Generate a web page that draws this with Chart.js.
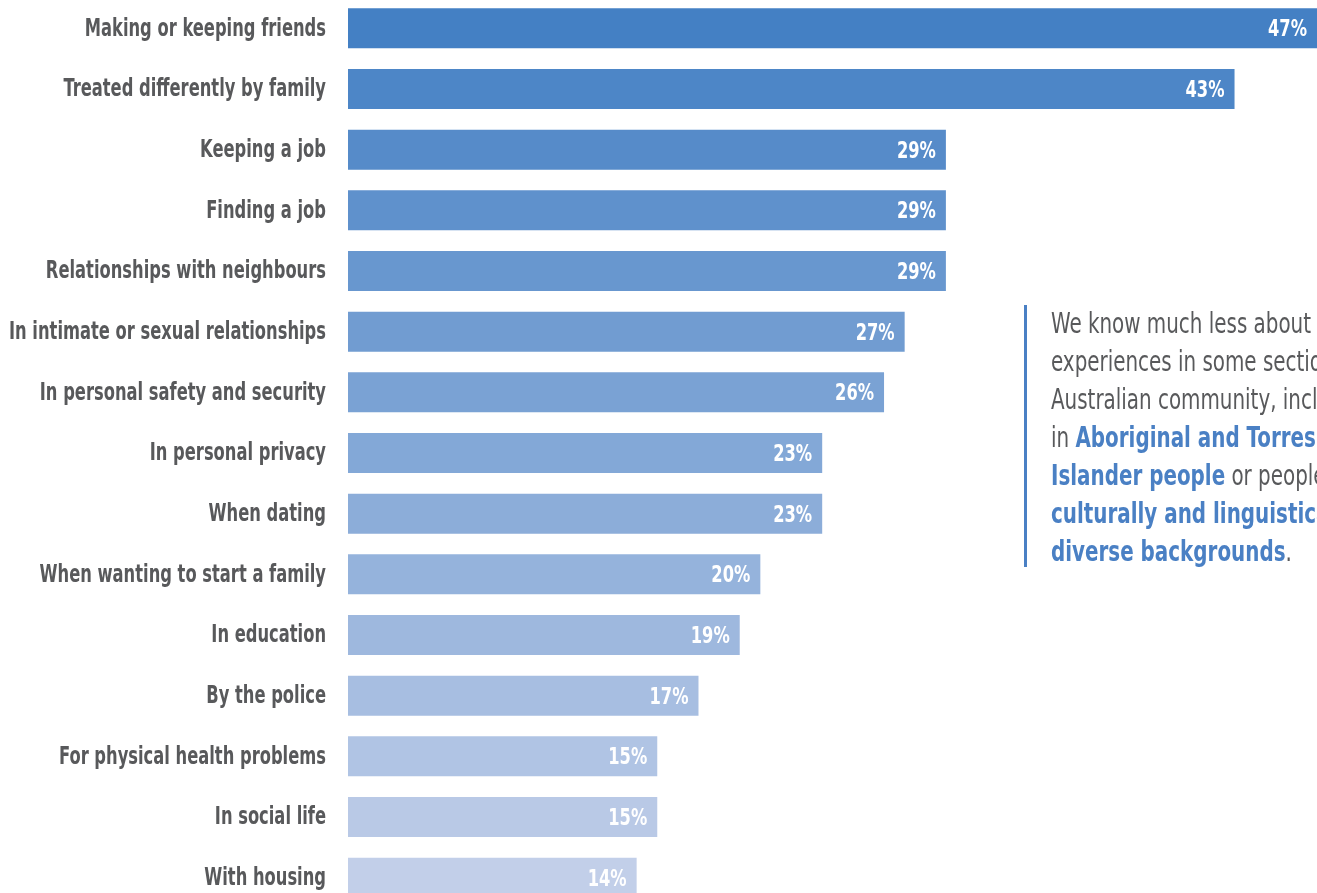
<!DOCTYPE html>
<html>
<head>
<meta charset="utf-8">
<script src="https://cdn.jsdelivr.net/npm/chart.js@4"></script>
<style>
  html, body { margin: 0; padding: 0; width: 1317px; height: 893px; overflow: hidden; background: #fff; }
  #wrap { position: absolute; left: 0; top: -2px; width: 1317px; height: 910px; }
  #note {
    position: absolute; left: 1024px; top: 305px; height: 262px;
    border-left: 3px solid #4a80c4; padding-left: 24px;
  }
  #note div {
    font-family: "DejaVu Sans Condensed", sans-serif;
    font-size: 28px; line-height: 38px; color: #58595b; white-space: nowrap;
    transform: scaleX(0.79); transform-origin: left top;
  }
  #note b { color: #4a80c4; }
</style>
</head>
<body>
<div id="wrap"><canvas id="chart"></canvas></div>
<div id="note"><div>We know much less about the<br>experiences in some sections of the<br>Australian community, including<br>in <b>Aboriginal and Torres Strait</b><br><b>Islander people</b> or people from<br><b>culturally and linguistically</b><br><b>diverse backgrounds</b>.</div></div>
<script>
const categories = [
  'Making or keeping friends', 'Treated differently by family', 'Keeping a job', 'Finding a job',
  'Relationships with neighbours', 'In intimate or sexual relationships', 'In personal safety and security',
  'In personal privacy', 'When dating', 'When wanting to start a family', 'In education', 'By the police',
  'For physical health problems', 'In social life', 'With housing'
];
const values = [47, 43, 29, 29, 29, 27, 26, 23, 23, 20, 19, 17, 15, 15, 14];

const FONT = '"DejaVu Sans Condensed", sans-serif';

// fade from strong blue at the top to pale blue at the bottom
function barColor(i, n) {
  const a = [68, 128, 196], b = [194, 207, 233];
  const t = i / (n - 1);
  const c = a.map((v, k) => Math.round(v + (b[k] - v) * t));
  return 'rgb(' + c.join(',') + ')';
}

// draw text squeezed horizontally to mimic a condensed face
function squeezed(cx, txt, xRight, y, sx) {
  cx.save();
  cx.translate(xRight, y);
  cx.scale(sx, 1);
  cx.fillText(txt, 0, 0);
  cx.restore();
}

const labelsPlugin = {
  id: 'labelsPlugin',
  afterDatasetsDraw(chart) {
    const cx = chart.ctx;
    const meta = chart.getDatasetMeta(0);
    const yScale = chart.scales.y;
    cx.save();
    cx.textAlign = 'right';
    cx.textBaseline = 'middle';
    // category names
    cx.font = 'bold 24px ' + FONT;
    cx.fillStyle = '#58595b';
    const sx = 317 / cx.measureText('In intimate or sexual relationships').width;
    categories.forEach((c, i) => squeezed(cx, c, 326, yScale.getPixelForValue(i) + 1, sx));
    // values inside the bars
    cx.font = 'bold 23px ' + FONT;
    cx.fillStyle = '#fff';
    const vx = 39 / cx.measureText('47%').width;
    meta.data.forEach((bar, i) => squeezed(cx, values[i] + '%', bar.x - 10, bar.y + 2, vx));
    cx.restore();
  }
};

new Chart(document.getElementById('chart'), {
  type: 'bar',
  data: {
    labels: categories,
    datasets: [{
      data: values,
      backgroundColor: values.map((v, i) => barColor(i, values.length)),
      categoryPercentage: 0.66,
      barPercentage: 1
    }]
  },
  options: {
    indexAxis: 'y',
    responsive: true,
    maintainAspectRatio: false,
    animation: false,
    layout: { padding: 0 },
    plugins: { legend: { display: false }, tooltip: { enabled: false } },
    scales: {
      x: { display: false, min: 0, max: 47 },
      y: {
        grid: { display: false },
        border: { display: false },
        ticks: { display: false },
        afterFit: s => { s.width = 348; s.paddingTop = 0; s.paddingBottom = 0; }
      }
    }
  },
  plugins: [labelsPlugin]
});
</script>
</body>
</html>
